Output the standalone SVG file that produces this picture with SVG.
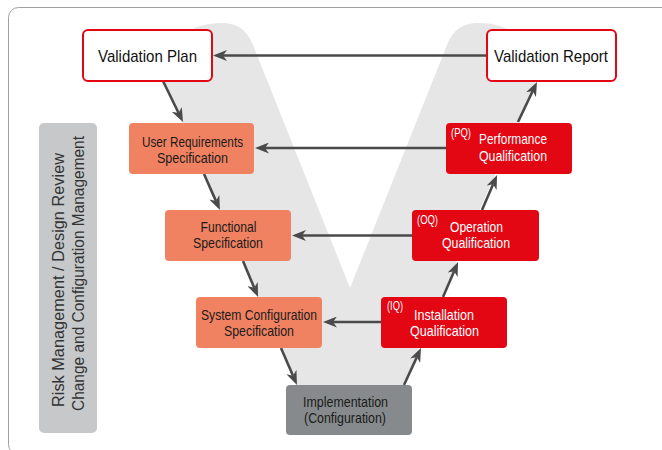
<svg xmlns="http://www.w3.org/2000/svg" width="662" height="450" viewBox="0 0 662 450">
  <defs>
    <marker id="ah" markerUnits="userSpaceOnUse" markerWidth="14" markerHeight="11" refX="4" refY="5.5" orient="auto">
      <path d="M0,0 L14,5.5 L0,11 L4,5.5 Z" fill="#4a4a4a"/>
    </marker>
    <style>
      text { font-family: "Liberation Sans", Arial, sans-serif; text-anchor: middle; }
      .title { font-size: 17px; fill: #111; }
      .lbl { font-size: 15px; }
      .dark { fill: #1a1a1a; }
      .white { fill: #ffffff; }
      .tag { font-size: 12.5px; fill: #ffffff; text-anchor: start; }
      .side { font-size: 17px; fill: #333333; }
      .conn line { stroke: #4a4a4a; stroke-width: 2.6; marker-end: url(#ah); }
      .outline { fill: #ffffff; stroke: #e30613; stroke-width: 2; }
      .spec { fill: #f08262; }
      .qual { fill: #e30613; }
    </style>
  </defs>

  <rect x="8.5" y="7.5" width="700" height="447" rx="10" fill="#ffffff" stroke="#a0a0a0" stroke-width="1"/>

  <path id="v-shape" d="M160,72 C168,45 185,23 222,23 C240,23 248,33 253,45 L350,288 L447,45 C452,33 460,23 478,23 C515,23 532,45 540,72 L387.5,420 L312.5,420 Z" fill="#e6e6e6"/>

  <g id="side-box">
    <rect x="39" y="123" width="58" height="310" rx="5" fill="#c6c8ca"/>
    <text class="side" transform="translate(63.5,280) rotate(-90)" textLength="254" lengthAdjust="spacingAndGlyphs">Risk Management / Design Review</text>
    <text class="side" transform="translate(83.5,273.5) rotate(-90)" textLength="275" lengthAdjust="spacingAndGlyphs">Change and Configuration Management</text>
  </g>

  <g class="conn" id="connectors">
    <line x1="487" y1="55.5" x2="223" y2="55.5"/>
    <line x1="446" y1="148" x2="265" y2="148"/>
    <line x1="412" y1="235.5" x2="302" y2="235.5"/>
    <line x1="381" y1="322" x2="333" y2="322"/>
    <line x1="163" y1="81" x2="178.6" y2="113"/>
    <line x1="204" y1="174" x2="215.9" y2="200.9"/>
    <line x1="243" y1="261" x2="254.2" y2="287.8"/>
    <line x1="281" y1="348" x2="293" y2="375.8"/>
    <line x1="404" y1="385" x2="416.8" y2="357.1"/>
    <line x1="443" y1="297" x2="454.1" y2="271.2"/>
    <line x1="482" y1="210" x2="493.1" y2="184.2"/>
    <line x1="518" y1="122" x2="532.7" y2="91"/>
  </g>

  <g id="validation-plan">
    <rect class="outline" x="83" y="30" width="129" height="51" rx="5"/>
    <text class="title" x="147.5" y="61.5" textLength="99" lengthAdjust="spacingAndGlyphs">Validation Plan</text>
  </g>

  <g id="validation-report">
    <rect class="outline" x="487" y="30" width="129" height="51" rx="5"/>
    <text class="title" x="551" y="62" textLength="114" lengthAdjust="spacingAndGlyphs">Validation Report</text>
  </g>

  <g id="urs">
    <rect class="spec" x="129" y="123" width="125" height="51" rx="4"/>
    <text class="lbl dark" x="192.5" y="146.5" textLength="101" lengthAdjust="spacingAndGlyphs">User Requirements</text>
    <text class="lbl dark" x="192.5" y="162.5" textLength="71" lengthAdjust="spacingAndGlyphs">Specification</text>
  </g>

  <g id="fs">
    <rect class="spec" x="165" y="210" width="126" height="51" rx="4"/>
    <text class="lbl dark" x="228.5" y="232" textLength="56" lengthAdjust="spacingAndGlyphs">Functional</text>
    <text class="lbl dark" x="228" y="248" textLength="70" lengthAdjust="spacingAndGlyphs">Specification</text>
  </g>

  <g id="scs">
    <rect class="spec" x="196" y="297" width="126" height="51" rx="4"/>
    <text class="lbl dark" x="259" y="319.5" textLength="116" lengthAdjust="spacingAndGlyphs">System Configuration</text>
    <text class="lbl dark" x="259" y="336" textLength="70" lengthAdjust="spacingAndGlyphs">Specification</text>
  </g>

  <g id="implementation">
    <rect x="286" y="385" width="126" height="50" rx="4" fill="#878a8c"/>
    <text class="lbl dark" x="345.5" y="406.5" textLength="85" lengthAdjust="spacingAndGlyphs">Implementation</text>
    <text class="lbl dark" x="345" y="422.5" textLength="82" lengthAdjust="spacingAndGlyphs">(Configuration)</text>
  </g>

  <g id="iq">
    <rect class="qual" x="381" y="297" width="126" height="51" rx="4"/>
    <text class="tag" x="387" y="310" textLength="16" lengthAdjust="spacingAndGlyphs">(IQ)</text>
    <text class="lbl white" x="444" y="319.5" textLength="60" lengthAdjust="spacingAndGlyphs">Installation</text>
    <text class="lbl white" x="444.5" y="336" textLength="69" lengthAdjust="spacingAndGlyphs">Qualification</text>
  </g>

  <g id="oq">
    <rect class="qual" x="412" y="210" width="127" height="51" rx="4"/>
    <text class="tag" x="417" y="223.5" textLength="21" lengthAdjust="spacingAndGlyphs">(OQ)</text>
    <text class="lbl white" x="476.5" y="232" textLength="53" lengthAdjust="spacingAndGlyphs">Operation</text>
    <text class="lbl white" x="476" y="248" textLength="68" lengthAdjust="spacingAndGlyphs">Qualification</text>
  </g>

  <g id="pq">
    <rect class="qual" x="446" y="123" width="126" height="51" rx="4"/>
    <text class="tag" x="451" y="136.5" textLength="20" lengthAdjust="spacingAndGlyphs">(PQ)</text>
    <text class="lbl white" x="513" y="144" textLength="68" lengthAdjust="spacingAndGlyphs">Performance</text>
    <text class="lbl white" x="513" y="161" textLength="68" lengthAdjust="spacingAndGlyphs">Qualification</text>
  </g>
</svg>
